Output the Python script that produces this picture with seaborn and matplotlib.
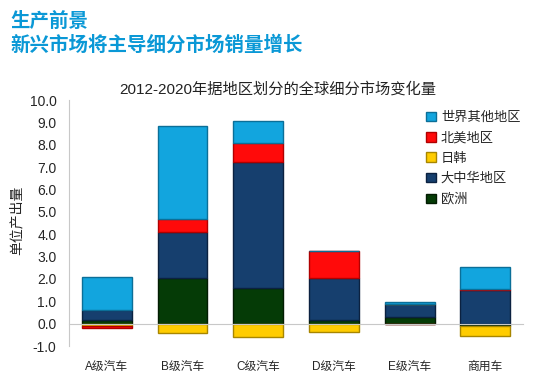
import numpy as np
import pandas as pd
import matplotlib
matplotlib.use("Agg")
import matplotlib.pyplot as plt
import seaborn as sns
from matplotlib.patches import Patch

categories = ["A级汽车", "B级汽车", "C级汽车", "D级汽车", "E级汽车", "商用车"]
europe = [0.15, 2.05, 1.60, 0.15, 0.30, -0.10]      # 欧洲
china = [0.45, 2.05, 5.65, 1.90, 0.60, 1.50]        # 大中华地区
japan_korea = [-0.10, -0.40, -0.60, -0.35, 0.00, -0.45]  # 日韩
north_america = [-0.10, 0.60, 0.85, 1.20, -0.03, 0.03]   # 北美地区
rest_world = [1.50, 4.15, 0.97, 0.02, 0.07, 1.00]   # 世界其他地区

series_names = ["欧洲", "大中华地区", "日韩", "北美地区", "世界其他地区"]
series_vals = [europe, china, japan_korea, north_america, rest_world]
colors = ["#053B06", "#163F6E", "#FFCC00", "#FF0A0A", "#12A5DE"]
edges = ["#021C02", "#0B2140", "#A88600", "#B00000", "#0B6F98"]

yticks = [-1.0, 0.0, 1.0, 2.0, 3.0, 4.0, 5.0, 6.0, 7.0, 8.0, 9.0, 10.0]

sns.set_style("white")
plt.rcParams["font.family"] = ["Liberation Sans", "Noto Sans CJK SC", "DejaVu Sans"]

fig = plt.figure(figsize=(5.56, 3.91), dpi=100)
ax = fig.add_axes([0.124, 0.115, 0.817, 0.629])

pos_bottom = np.zeros(len(categories))
neg_bottom = np.zeros(len(categories))
for name, vals, c, ec in zip(series_names, series_vals, colors, edges):
    vals = np.array(vals, dtype=float)
    bottoms = np.where(vals >= 0, pos_bottom, neg_bottom)
    df = pd.DataFrame({"cat": categories, "val": vals})
    sns.barplot(data=df, x="cat", y="val", order=categories, ax=ax, color=c,
                bottom=bottoms, width=0.66, edgecolor=ec, linewidth=1.0,
                saturation=1, errorbar=None)
    pos_bottom = pos_bottom + np.where(vals >= 0, vals, 0)
    neg_bottom = neg_bottom + np.where(vals < 0, vals, 0)

ax.set_xlim(-0.5, len(categories) - 0.5)
ax.set_ylim(-1.0, 10.0)
ax.set_yticks(yticks)
ax.set_yticklabels([f"{v:.1f}" for v in yticks], fontsize=10)
ax.set_xlabel("")
ax.set_ylabel("单位产出量", fontsize=10)
ax.yaxis.set_label_coords(-0.099, 0.51)

for s in ["top", "right"]:
    ax.spines[s].set_visible(False)
ax.spines["left"].set_color("#C8C8C8")
ax.spines["bottom"].set_color("#C8C8C8")
ax.spines["bottom"].set_position(("data", 0))
ax.tick_params(axis="y", which="major", length=4, color="#C8C8C8", direction="out", pad=5)
ax.set_xticks(np.arange(len(categories)))
ax.set_xticklabels(categories, fontsize=8.5)
ax.tick_params(axis="x", which="major", length=0, pad=27)
ax.set_xticks(np.arange(len(categories)) - 0.5 + 1, minor=True)
ax.tick_params(axis="x", which="minor", length=4, color="#C8C8C8", direction="out")

handles = [Patch(facecolor=c, edgecolor=ec, linewidth=1) for c, ec in zip(colors, edges)]
leg = ax.legend(handles[::-1], series_names[::-1], loc="upper right",
                bbox_to_anchor=(1.02, 1.0), frameon=False, fontsize=9.5,
                handlelength=0.7, handleheight=0.7, handletextpad=0.4,
                labelspacing=0.6)

fig.text(0.5, 0.772, "2012-2020年据地区划分的全球细分市场变化量", ha="center", va="center",
         fontsize=11, color="#222222")
fig.text(0.018, 0.945, "生产前景", ha="left", va="center", fontsize=14,
         fontweight="bold", color="#0A98D6")
fig.text(0.018, 0.885, "新兴市场将主导细分市场销量增长", ha="left", va="center",
         fontsize=14, fontweight="bold", color="#0A98D6")

fig.savefig("out.png", dpi=100)
